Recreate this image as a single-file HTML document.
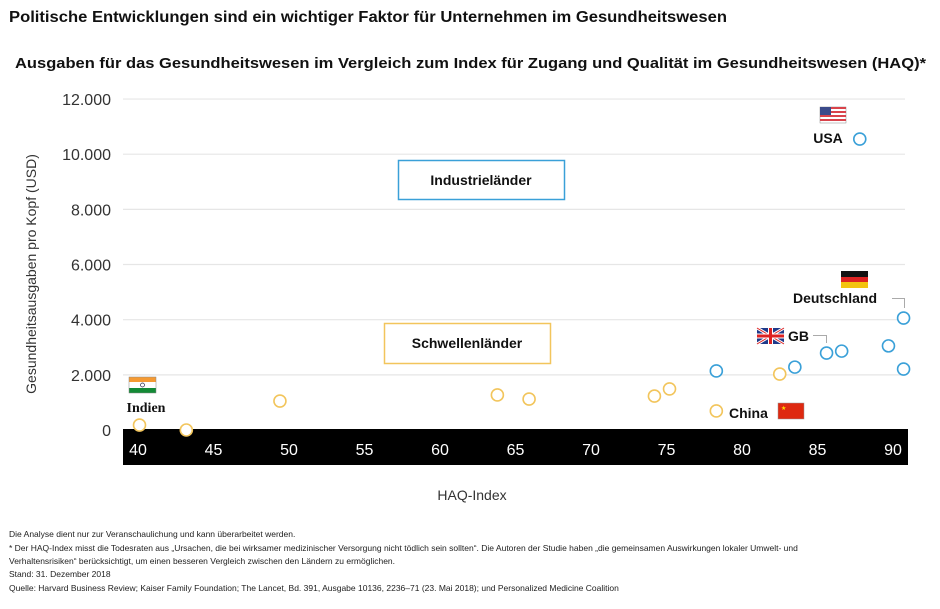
<!DOCTYPE html>
<html><head><meta charset="utf-8">
<style>
body{margin:0;background:#fff;width:940px;height:609px;overflow:hidden;font-family:"Liberation Sans",sans-serif;}
.foot{position:absolute;left:9px;font-size:8.5px;color:#222;white-space:nowrap;}
</style></head>
<body>
<svg width="940" height="609" style="position:absolute;left:0;top:0" font-family="Liberation Sans, sans-serif">
<text x="9" y="22" font-size="15.5" font-weight="bold" fill="#111" textLength="718" lengthAdjust="spacingAndGlyphs">Politische Entwicklungen sind ein wichtiger Faktor für Unternehmen im Gesundheitswesen</text>
<text x="15" y="68" font-size="15" font-weight="bold" fill="#111" textLength="911" lengthAdjust="spacingAndGlyphs">Ausgaben für das Gesundheitswesen im Vergleich zum Index für Zugang und Qualität im Gesundheitswesen (HAQ)*</text>
<g id="grid"></g>
<rect x="123" y="429" width="785" height="36" fill="#000"/>
<g id="xt"></g>
<text x="0" y="0" transform="translate(36,274) rotate(-90)" text-anchor="middle" font-size="14" fill="#333">Gesundheitsausgaben pro Kopf (USD)</text>
<text x="472" y="500" text-anchor="middle" font-size="14" fill="#333">HAQ-Index</text>
<rect x="398.5" y="160.5" width="166" height="39" fill="none" stroke="#3aa0d8" stroke-width="1.5"/>
<text x="481" y="185" text-anchor="middle" font-size="14" font-weight="bold" fill="#111">Industrieländer</text>
<rect x="384.5" y="323.5" width="166" height="40" fill="none" stroke="#f2c55c" stroke-width="1.5"/>
<text x="467" y="348" text-anchor="middle" font-size="14" font-weight="bold" fill="#111">Schwellenländer</text>
<g id="pts"></g>
<g>
<rect x="820" y="107" width="26" height="16" fill="#fff" stroke="#888" stroke-width="0.5"/>
<g fill="#d9434b"><rect x="820" y="107" width="26" height="2"/><rect x="820" y="111" width="26" height="2"/><rect x="820" y="115" width="26" height="2"/><rect x="820" y="119" width="26" height="2"/></g>
<rect x="820" y="107" width="11" height="8" fill="#3b4a8a"/>
<text x="828" y="143" text-anchor="middle" font-size="14" font-weight="bold" fill="#111">USA</text>
</g>
<g>
<rect x="841" y="271" width="27" height="6" fill="#111"/><rect x="841" y="277" width="27" height="5" fill="#d22"/><rect x="841" y="282" width="27" height="6" fill="#f3c30f"/>
<text x="835" y="303" text-anchor="middle" font-size="14" font-weight="bold" fill="#111">Deutschland</text>
<path d="M892 298.5 H904.5 V308" fill="none" stroke="#aaa" stroke-width="1"/>
</g>
<g>
<rect x="757" y="328" width="27" height="16" fill="#1f3a8a"/>
<path d="M757 328 L784 344 M784 328 L757 344" stroke="#fff" stroke-width="3"/>
<path d="M757 328 L784 344 M784 328 L757 344" stroke="#d22" stroke-width="1"/>
<rect x="768" y="328" width="5" height="16" fill="#fff"/><rect x="757" y="333.5" width="27" height="5" fill="#fff"/>
<rect x="769" y="328" width="3" height="16" fill="#d22"/><rect x="757" y="334.5" width="27" height="3" fill="#d22"/>
<text x="788" y="341" font-size="14" font-weight="bold" fill="#111">GB</text>
<path d="M813 335.5 H826.5 V343" fill="none" stroke="#aaa" stroke-width="1"/>
</g>
<g>
<text x="729" y="418" font-size="14" font-weight="bold" fill="#111">China</text>
<rect x="778" y="403" width="26" height="16" fill="#de2910" stroke="#999" stroke-width="0.5"/>
<text x="781" y="410" font-size="6" fill="#ffde00">★</text>
</g>
<g>
<rect x="129" y="377" width="27" height="5" fill="#f59a33"/><rect x="129" y="382" width="27" height="6" fill="#fff"/><rect x="129" y="388" width="27" height="5" fill="#138a36"/>
<rect x="129" y="377" width="27" height="16" fill="none" stroke="#888" stroke-width="0.5"/>
<circle cx="142.5" cy="385" r="2" fill="none" stroke="#224" stroke-width="0.7"/>
<text x="146" y="412" text-anchor="middle" font-size="14" font-weight="bold" font-family="Liberation Serif, serif" fill="#111">Indien</text>
</g>
</svg>
<div class="foot" style="top:529px">Die Analyse dient nur zur Veranschaulichung und kann überarbeitet werden.</div>
<div class="foot" style="top:543px">* Der HAQ-Index misst die Todesraten aus „Ursachen, die bei wirksamer medizinischer Versorgung nicht tödlich sein sollten“. Die Autoren der Studie haben „die gemeinsamen Auswirkungen lokaler Umwelt- und</div>
<div class="foot" style="top:556px">Verhaltensrisiken“ berücksichtigt, um einen besseren Vergleich zwischen den Ländern zu ermöglichen.</div>
<div class="foot" style="top:569px">Stand: 31. Dezember 2018</div>
<div class="foot" style="top:583px">Quelle: Harvard Business Review; Kaiser Family Foundation; The Lancet, Bd. 391, Ausgabe 10136, 2236–71 (23. Mai 2018); und Personalized Medicine Coalition</div>
<script>
const yTicks=[0,2000,4000,6000,8000,10000,12000];
const yTickLabels=["0","2.000","4.000","6.000","8.000","10.000","12.000"];
const xTicks=[40,45,50,55,60,65,70,75,80,85,90];
const emergingHaq=[40.1,43.2,49.4,63.8,65.9,74.2,75.2,78.3,82.5];
const emergingSpend=[180,0,1050,1270,1120,1230,1490,690,2030];
const industrialHaq=[78.3,83.5,85.6,86.6,89.7,90.7,90.7,87.8];
const industrialSpend=[2140,2280,2790,2860,3050,4060,2210,10550];
const NS="http://www.w3.org/2000/svg";
function xs(v){return 138+(v-40)*15.1;}
function ys(v){return 430-v*0.02758;}
function mk(t,a){const e=document.createElementNS(NS,t);for(const k in a)e.setAttribute(k,a[k]);return e;}
const grid=document.getElementById('grid');
yTicks.forEach((v,i)=>{
  if(v>0){const l=mk('line',{x1:123,x2:905,y1:ys(v),y2:ys(v),stroke:'#e6e6e6','stroke-width':1.2});
  
  
  grid.appendChild(l);}
  const t=mk('text',{x:111,y:ys(v)+6,'text-anchor':'end','font-size':16,fill:'#333'});
  t.textContent=yTickLabels[i];
  
  
  grid.appendChild(t);
});
const xt=document.getElementById('xt');
xTicks.forEach(v=>{
  const t=mk('text',{x:xs(v),y:455,'text-anchor':'middle','font-size':16,fill:'#fff'});
  t.textContent=v;
  
  
  xt.appendChild(t);
});
const pts=document.getElementById('pts');
emergingHaq.forEach((h,i)=>{
  const c=mk('circle',{cx:xs(h),cy:ys(emergingSpend[i]),r:6,fill:'#fff',stroke:'#f2c55c','stroke-width':1.6});
  
  
  pts.appendChild(c);
});
industrialHaq.forEach((h,i)=>{
  const c=mk('circle',{cx:xs(h),cy:ys(industrialSpend[i]),r:6,fill:'#fff',stroke:'#3aa0d8','stroke-width':1.6});
  
  
  pts.appendChild(c);
});
</script>
</body></html>
